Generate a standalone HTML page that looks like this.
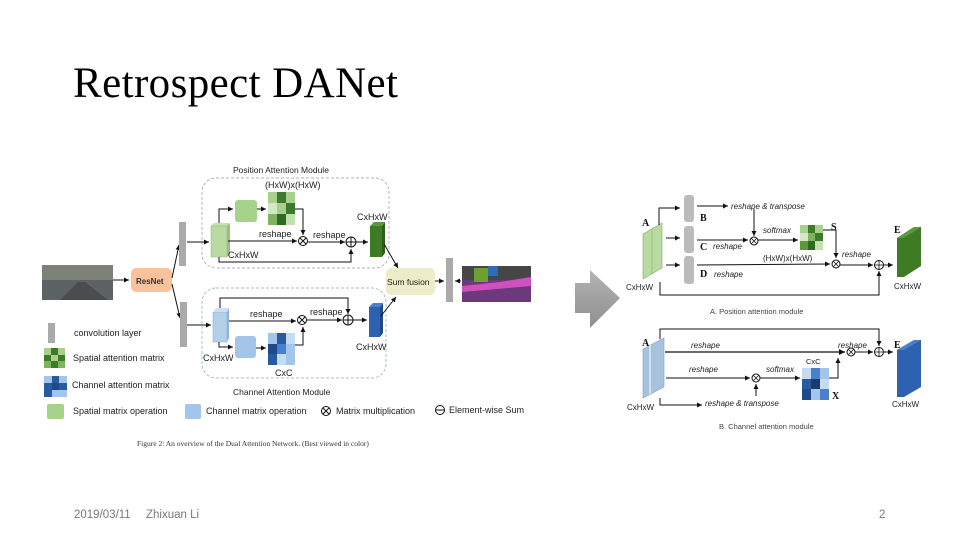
<!DOCTYPE html>
<html><head><meta charset="utf-8"><style>
html,body{margin:0;padding:0;background:#fff;}
svg{display:block}
text{font-family:"Liberation Sans",sans-serif;}
.s{font-size:9px;fill:#222}
.i{font-size:8px;font-style:italic;fill:#222}
.b{font-family:"Liberation Serif",serif;font-weight:bold;font-size:10px;fill:#111}
</style></head><body>
<svg width="960" height="540" viewBox="0 0 960 540" xmlns="http://www.w3.org/2000/svg">
<defs>
<marker id="a" markerWidth="6" markerHeight="6" refX="5" refY="3" orient="auto"><path d="M0,0.5 L5,3 L0,5.5z" fill="#111"/></marker>
<linearGradient id="g" x1="0" y1="0" x2="0" y2="1"><stop offset="0" stop-color="#b4b4b4"/><stop offset="1" stop-color="#8e8e8e"/></linearGradient>
</defs>
<text x="73" y="97" textLength="325" style="font-family:'Liberation Serif',serif;font-size:43px;fill:#000">Retrospect DANet</text>
<text x="74" y="518" style="font-size:11.5px;fill:#777">2019/03/11</text>
<text x="146" y="518" style="font-size:11.5px;fill:#777">Zhixuan Li</text>
<text x="879" y="518" style="font-size:11.5px;fill:#777">2</text>

<!-- LEFT DIAGRAM -->
<text x="233" y="173" class="s" style="font-size:8.5px">Position Attention Module</text>
<rect x="202" y="178" width="187" height="90" rx="14" fill="none" stroke="#999" stroke-dasharray="3,2" stroke-width="0.7"/>
<rect x="202" y="288" width="184" height="90" rx="14" fill="none" stroke="#8aa" stroke-dasharray="3,2" stroke-width="0.7"/>
<text x="265" y="188" class="s">(HxW)x(HxW)</text>
<rect x="42" y="265" width="71" height="35" fill="#5d6262"/>
<rect x="42" y="265" width="71" height="15" fill="#7d8278"/>
<path d="M60,300 L78,282 L85,282 L108,300z" fill="#4a4d50"/>
<rect x="131" y="268" width="41" height="24" rx="5" fill="#f8c39c"/>
<text x="136" y="284" class="s" style="font-size:8px;font-weight:bold;fill:#333">ResNet</text>
<line x1="113" y1="280" x2="129" y2="280" stroke="#111" marker-end="url(#a)"/>
<line x1="172" y1="278" x2="179" y2="245" stroke="#111" marker-end="url(#a)"/>
<line x1="172" y1="284" x2="180" y2="318" stroke="#111" marker-end="url(#a)"/>
<rect x="179" y="222" width="7" height="44" fill="#aaa"/>
<rect x="180" y="302" width="7" height="45" fill="#aaa"/>
<line x1="187" y1="242" x2="209" y2="242" stroke="#111" marker-end="url(#a)"/>
<path d="M211,226 L214,223 L230,223 L227,226z" fill="#c4dfb0"/><rect x="211" y="226" width="16" height="31" fill="#b9daa0" stroke="#8fb97a" stroke-width="0.5"/><path d="M227,226 L230,223 L230,254 L227,257z" fill="#98c080"/>
<polyline points="219,223 219,209 233,209" fill="none" stroke="#111" marker-end="url(#a)"/>
<rect x="235" y="200" width="22" height="22" rx="3" fill="#a6d38c"/>
<line x1="257" y1="209" x2="266" y2="209" stroke="#111" marker-end="url(#a)"/>
<g transform="translate(268,192)">
<rect width="27" height="33" fill="#7fb45e"/>
<rect x="0" y="0" width="9" height="11" fill="#a8cf8e"/><rect x="9" y="0" width="9" height="11" fill="#3d7a2a"/><rect x="18" y="0" width="9" height="11" fill="#a8cf8e"/>
<rect x="0" y="11" width="9" height="11" fill="#d5e8c6"/><rect x="9" y="11" width="9" height="11" fill="#a8cf8e"/><rect x="18" y="11" width="9" height="11" fill="#3d7a2a"/>
<rect x="0" y="22" width="9" height="11" fill="#7fb45e"/><rect x="9" y="22" width="9" height="11" fill="#2e6a20"/><rect x="18" y="22" width="9" height="11" fill="#c5e0b0"/>
</g>
<polyline points="295,209 303,209 303,235" fill="none" stroke="#111" marker-end="url(#a)"/>
<line x1="228" y1="241" x2="297" y2="241" stroke="#111" marker-end="url(#a)"/>
<circle cx="303" cy="241" r="4.5" fill="#fff" stroke="#111"/><path d="M300,238 L306,244 M306,238 L300,244" stroke="#111"/>
<text x="259" y="237" class="s">reshape</text>
<text x="313" y="238" class="s">reshape</text>
<line x1="308" y1="242" x2="345" y2="242" stroke="#111" marker-end="url(#a)"/>
<circle cx="351" cy="242" r="5" fill="#fff" stroke="#111"/><path d="M346,242 L356,242 M351,237 L351,247" stroke="#111"/>
<polyline points="219,257 219,262 351,262 351,249" fill="none" stroke="#111" marker-end="url(#a)"/>
<line x1="356" y1="242" x2="368" y2="242" stroke="#111" marker-end="url(#a)"/>
<rect x="370" y="226" width="12" height="31" fill="#3f7a25"/><path d="M370,226 L374,222 L385,222 L382,226z" fill="#5a9a3a"/><path d="M382,226 L385,222 L385,253 L382,257z" fill="#2e5d1a"/>
<text x="357" y="220" class="s">CxHxW</text>
<text x="228" y="258" class="s">CxHxW</text>
<line x1="384" y1="244" x2="398" y2="268" stroke="#111" marker-end="url(#a)"/>
<rect x="386" y="268" width="49" height="27" rx="5" fill="#ececc8"/>
<text x="387" y="285" class="s" style="font-size:8.5px">Sum fusion</text>
<line x1="435" y1="281" x2="444" y2="281" stroke="#111" marker-end="url(#a)"/>
<rect x="446" y="258" width="7" height="44" fill="#aaa"/>
<line x1="461" y1="281" x2="455" y2="281" stroke="#111" marker-end="url(#a)"/>
<rect x="462" y="266" width="69" height="36" fill="#6c3a7a"/>
<rect x="462" y="266" width="69" height="14" fill="#464646"/>
<path d="M462,286 L500,282 L531,277 L531,286 L462,292z" fill="#d050c0"/>
<rect x="474" y="268" width="14" height="14" fill="#6ea02e"/>
<rect x="488" y="266" width="10" height="10" fill="#2a6fb0"/>
<line x1="187" y1="325" x2="211" y2="325" stroke="#111" marker-end="url(#a)"/>
<rect x="213" y="312" width="14" height="30" fill="#b4cfe8" stroke="#7fa6cc" stroke-width="0.5"/><path d="M213,312 L216,308 L229,308 L227,312z" fill="#cde0f2"/><path d="M227,312 L229,308 L229,338 L227,342z" fill="#8fb3d8"/>
<polyline points="220,308 220,298 348,298 348,314" fill="none" stroke="#111" marker-end="url(#a)"/>
<line x1="229" y1="321" x2="296" y2="321" stroke="#111" marker-end="url(#a)"/>
<circle cx="302" cy="320" r="4.5" fill="#fff" stroke="#111"/><path d="M299,317 L305,323 M305,317 L299,323" stroke="#111"/>
<text x="250" y="317" class="s">reshape</text>
<text x="310" y="315" class="s">reshape</text>
<line x1="307" y1="320" x2="342" y2="320" stroke="#111" marker-end="url(#a)"/>
<circle cx="348" cy="320" r="5" fill="#fff" stroke="#111"/><path d="M343,320 L353,320 M348,315 L348,325" stroke="#111"/>
<line x1="353" y1="320" x2="367" y2="320" stroke="#111" marker-end="url(#a)"/>
<rect x="369" y="307" width="11" height="30" fill="#2e62b0"/><path d="M369,307 L373,303 L383,303 L380,307z" fill="#4a7fcc"/><path d="M380,307 L383,303 L383,333 L380,337z" fill="#1f4a8a"/>
<polyline points="219,342 219,347 233,347" fill="none" stroke="#111" marker-end="url(#a)"/>
<rect x="235" y="336" width="21" height="22" rx="3" fill="#a3c5ea"/>
<line x1="256" y1="348" x2="266" y2="348" stroke="#111" marker-end="url(#a)"/>
<g transform="translate(268,333)">
<rect width="27" height="32" fill="#3b6fb8"/>
<rect x="0" y="0" width="9" height="11" fill="#a3c5ea"/><rect x="9" y="0" width="9" height="11" fill="#2a5aa0"/><rect x="18" y="0" width="9" height="11" fill="#c5dbf2"/>
<rect x="0" y="11" width="9" height="10" fill="#1f4a8a"/><rect x="9" y="11" width="9" height="10" fill="#4a7fcc"/><rect x="18" y="11" width="9" height="10" fill="#a3c5ea"/>
<rect x="0" y="21" width="9" height="11" fill="#2a5aa0"/><rect x="9" y="21" width="9" height="11" fill="#c5dbf2"/><rect x="18" y="21" width="9" height="11" fill="#a3c5ea"/>
</g>
<polyline points="295,345 303,345 303,327" fill="none" stroke="#111" marker-end="url(#a)"/>
<text x="356" y="350" class="s">CxHxW</text>
<text x="203" y="361" class="s">CxHxW</text>
<text x="275" y="376" class="s">CxC</text>
<line x1="381" y1="316" x2="396" y2="297" stroke="#111" marker-end="url(#a)"/>
<text x="233" y="395" class="s" style="font-size:8.5px">Channel Attention Module</text>
<rect x="48" y="323" width="7" height="20" fill="#aaa"/>
<text x="74" y="336" class="s">convolution layer</text>
<g transform="translate(44,348)"><rect width="21" height="20" fill="#3d7a2a"/><rect width="7" height="7" fill="#a8cf8e"/><rect x="14" y="0" width="7" height="7" fill="#a8cf8e"/><rect x="7" y="7" width="7" height="6" fill="#a8cf8e"/><rect x="0" y="13" width="7" height="7" fill="#7fb45e"/><rect x="14" y="13" width="7" height="7" fill="#7fb45e"/></g>
<text x="73" y="361" class="s">Spatial attention matrix</text>
<g transform="translate(44,376)"><rect width="23" height="21" fill="#2a5aa0"/><rect width="8" height="7" fill="#a3c5ea"/><rect x="15" y="0" width="8" height="7" fill="#a3c5ea"/><rect x="8" y="7" width="7" height="7" fill="#1f4a8a"/><rect x="15" y="14" width="8" height="7" fill="#a3c5ea"/><rect x="8" y="14" width="7" height="7" fill="#a3c5ea"/></g>
<text x="72" y="388" class="s">Channel attention matrix</text>
<rect x="47" y="404" width="17" height="15" rx="2" fill="#a6d38c"/>
<text x="73" y="414" class="s">Spatial matrix operation</text>
<rect x="185" y="404" width="16" height="15" rx="2" fill="#a3c5ea"/>
<text x="206" y="414" class="s">Channel matrix operation</text>
<circle cx="326" cy="411" r="4.5" fill="#fff" stroke="#111"/><path d="M323,408 L329,414 M329,408 L323,414" stroke="#111"/>
<text x="336" y="414" class="s">Matrix multiplication</text>
<circle cx="440" cy="410" r="4.5" fill="#fff" stroke="#111"/><path d="M435.5,410 L444.5,410" stroke="#111"/>
<text x="449" y="413" class="s">Element-wise Sum</text>
<text x="137" y="446" style="font-family:'Liberation Serif',serif;font-size:7.5px;fill:#333">Figure 2: An overview of the Dual Attention Network. (Best viewed in color)</text>

<path d="M575,283 L590,283 L590,270 L620,298 L590,328 L590,313 L575,313z" fill="url(#g)"/>

<path d="M643,234 L662,223 L662,268 L643,279z" fill="#b9daa0" stroke="#7fae66" stroke-width="0.6"/>
<path d="M652,229 L652,274" stroke="#7fae66" stroke-width="0.5"/>
<text x="642" y="226" class="b">A</text>
<text x="626" y="290" class="s" style="font-size:8px">CxHxW</text>
<rect x="684" y="195" width="10" height="27" rx="3" fill="#bbb"/>
<rect x="684" y="226" width="10" height="27" rx="3" fill="#bbb"/>
<rect x="684" y="256" width="10" height="28" rx="3" fill="#bbb"/>
<polyline points="659,225 659,208 680,208" fill="none" stroke="#111" marker-end="url(#a)"/>
<line x1="666" y1="238" x2="680" y2="238" stroke="#111" marker-end="url(#a)"/>
<line x1="666" y1="265" x2="680" y2="265" stroke="#111" marker-end="url(#a)"/>
<text x="700" y="221" class="b">B</text>
<text x="700" y="250" class="b">C</text>
<text x="700" y="277" class="b">D</text>
<line x1="697" y1="206" x2="728" y2="206" stroke="#111" marker-end="url(#a)"/>
<text x="731" y="209" class="i">reshape &amp; transpose</text>
<line x1="754" y1="209" x2="754" y2="236" stroke="#111" marker-end="url(#a)"/>
<line x1="697" y1="240" x2="748" y2="240" stroke="#111" marker-end="url(#a)"/>
<circle cx="754" cy="241" r="4" fill="#fff" stroke="#111"/><path d="M751.5,238.5 L756.5,243.5 M756.5,238.5 L751.5,243.5" stroke="#111" stroke-width="0.8"/>
<text x="713" y="249" class="i">reshape</text>
<line x1="758" y1="240" x2="798" y2="240" stroke="#111" marker-end="url(#a)"/>
<text x="763" y="233" class="i">softmax</text>
<g transform="translate(800,225)"><rect width="23" height="25" fill="#7fb45e"/><rect width="8" height="8" fill="#a8cf8e"/><rect x="8" y="0" width="7" height="8" fill="#3d7a2a"/><rect x="15" y="0" width="8" height="8" fill="#a8cf8e"/><rect x="0" y="8" width="8" height="8" fill="#d5e8c6"/><rect x="15" y="8" width="8" height="8" fill="#3d7a2a"/><rect x="0" y="16" width="8" height="9" fill="#5a9a3a"/><rect x="8" y="16" width="7" height="9" fill="#2e6a20"/><rect x="15" y="16" width="8" height="9" fill="#c5e0b0"/></g>
<text x="831" y="230" class="b">S</text>
<polyline points="823,230 836,230 836,258" fill="none" stroke="#111" marker-end="url(#a)"/>
<text x="763" y="261" style="font-size:8px;fill:#222">(HxW)x(HxW)</text>
<line x1="697" y1="265" x2="830" y2="264" stroke="#111" marker-end="url(#a)"/>
<text x="714" y="277" class="i">reshape</text>
<circle cx="836" cy="264" r="4" fill="#fff" stroke="#111"/><path d="M833.5,261.5 L838.5,266.5 M838.5,261.5 L833.5,266.5" stroke="#111" stroke-width="0.8"/>
<text x="842" y="257" class="i">reshape</text>
<line x1="840" y1="265" x2="873" y2="265" stroke="#111" marker-end="url(#a)"/>
<circle cx="879" cy="265" r="4.5" fill="#fff" stroke="#111"/><path d="M874.5,265 L883.5,265 M879,260.5 L879,269.5" stroke="#111" stroke-width="0.8"/>
<polyline points="660,282 660,295 879,295 879,271" fill="none" stroke="#111" marker-end="url(#a)"/>
<line x1="884" y1="265" x2="893" y2="265" stroke="#111" marker-end="url(#a)"/>
<path d="M897,238 L914,227 L921,227 L921,266 L904,277 L897,277z" fill="#3f7a25"/><path d="M897,238 L914,227 L921,227 L904,238z" fill="#5a9a3a"/>
<text x="894" y="233" class="b">E</text>
<text x="894" y="289" class="s" style="font-size:8px">CxHxW</text>
<text x="710" y="314" style="font-size:7.5px;fill:#444">A. Position attention module</text>

<path d="M643,349 L664,338 L664,387 L643,398z" fill="#a6c2dc" stroke="#7f9fbf" stroke-width="0.6"/>
<path d="M650,345 L650,394" stroke="#d0e0f0" stroke-width="2"/>
<text x="642" y="346" class="b">A</text>
<text x="627" y="410" class="s" style="font-size:8px">CxHxW</text>
<polyline points="660,339 660,329 879,329 879,346" fill="none" stroke="#111" marker-end="url(#a)"/>
<line x1="665" y1="352" x2="845" y2="352" stroke="#111" stroke-width="1.2" marker-end="url(#a)"/>
<text x="691" y="348" class="i">reshape</text>
<circle cx="851" cy="352" r="4" fill="#fff" stroke="#111"/><path d="M848.5,349.5 L853.5,354.5 M853.5,349.5 L848.5,354.5" stroke="#111" stroke-width="0.8"/>
<text x="838" y="348" class="i">reshape</text>
<line x1="855" y1="352" x2="873" y2="352" stroke="#111" marker-end="url(#a)"/>
<circle cx="879" cy="352" r="4.5" fill="#fff" stroke="#111"/><path d="M874.5,352 L883.5,352 M879,347.5 L879,356.5" stroke="#111" stroke-width="0.8"/>
<line x1="884" y1="352" x2="893" y2="352" stroke="#111" marker-end="url(#a)"/>
<line x1="666" y1="378" x2="750" y2="378" stroke="#111" marker-end="url(#a)"/>
<text x="689" y="372" class="i">reshape</text>
<circle cx="756" cy="378" r="4" fill="#fff" stroke="#111"/><path d="M753.5,375.5 L758.5,380.5 M758.5,375.5 L753.5,380.5" stroke="#111" stroke-width="0.8"/>
<line x1="756" y1="396" x2="756" y2="384" stroke="#111" marker-end="url(#a)"/>
<line x1="760" y1="378" x2="800" y2="378" stroke="#111" marker-end="url(#a)"/>
<text x="766" y="372" class="i">softmax</text>
<text x="806" y="364" style="font-size:7.5px;fill:#222">CxC</text>
<g transform="translate(802,368)"><rect width="27" height="32" fill="#a3c5ea"/><rect x="0" y="0" width="9" height="11" fill="#c5dbf2"/><rect x="9" y="0" width="9" height="11" fill="#4a7fcc"/><rect x="0" y="11" width="9" height="10" fill="#2a5aa0"/><rect x="9" y="11" width="9" height="10" fill="#1a3a70"/><rect x="18" y="11" width="9" height="10" fill="#c5dbf2"/><rect x="0" y="21" width="9" height="11" fill="#1f4a8a"/><rect x="18" y="21" width="9" height="11" fill="#4a7fcc"/></g>
<text x="832" y="399" class="b">X</text>
<polyline points="829,378 838,378 838,358" fill="none" stroke="#111" marker-end="url(#a)"/>
<polyline points="660,398 660,405 702,405" fill="none" stroke="#111" marker-end="url(#a)"/>
<text x="705" y="406" class="i">reshape &amp; transpose</text>
<path d="M897,350 L914,340 L921,340 L921,387 L904,397 L897,397z" fill="#2e62b0"/><path d="M897,350 L914,340 L921,340 L904,350z" fill="#4a7fcc"/>
<text x="894" y="348" class="b">E</text>
<text x="892" y="407" class="s" style="font-size:8px">CxHxW</text>
<text x="719" y="429" style="font-size:7.5px;fill:#444">B. Channel attention module</text>
</svg>
</body></html>
